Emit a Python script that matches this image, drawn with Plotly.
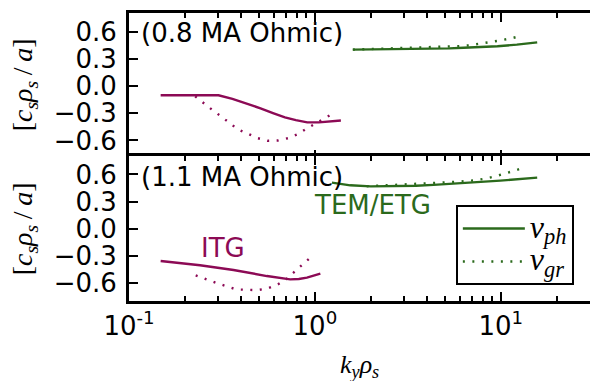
import plotly.graph_objects as go

# ---- 0.8 MA Ohmic: ITG branch (negative frequencies) ----
k_itg_ph_08 = [0.148, 0.303, 0.36, 0.43, 0.51, 0.60, 0.69, 0.79, 0.91, 1.05, 1.2, 1.38]
v_itg_ph_08 = [-0.10, -0.10, -0.14, -0.19, -0.245, -0.30, -0.345, -0.375, -0.40, -0.40, -0.39, -0.38]
k_itg_gr_08 = [0.227, 0.251, 0.280, 0.312, 0.347, 0.385, 0.433, 0.491, 0.556, 0.632, 0.722,
               0.813, 0.906, 1.137, 1.27]
v_itg_gr_08 = [-0.112, -0.187, -0.261, -0.332, -0.406, -0.478, -0.523, -0.574, -0.604, -0.601,
               -0.574, -0.529, -0.467, -0.347, -0.294]

# ---- 0.8 MA Ohmic: TEM/ETG branch ----
k_tem_ph_08 = [1.60, 2.3, 3.2, 4.2, 5.3, 6.3, 7.8, 9.6, 12.2, 15.7]
v_tem_ph_08 = [0.405, 0.408, 0.41, 0.414, 0.419, 0.425, 0.432, 0.442, 0.46, 0.485]
k_tem_gr_08 = [1.6, 2.67, 3.97, 5.17, 5.91, 6.75, 7.69, 8.79, 10.0, 11.4, 13.0]
v_tem_gr_08 = [0.405, 0.418, 0.425, 0.435, 0.443, 0.452, 0.468, 0.487, 0.507, 0.53, 0.56]

# ---- 1.1 MA Ohmic: ITG branch ----
k_itg_ph_11 = [0.148, 0.241, 0.365, 0.552, 0.736, 0.82, 0.906, 1.07]
v_itg_ph_11 = [-0.357, -0.405, -0.457, -0.524, -0.561, -0.556, -0.542, -0.498]
k_itg_gr_11 = [0.2285, 0.259, 0.293, 0.333, 0.378, 0.431, 0.491, 0.556, 0.632, 0.70, 0.776,
               0.857, 0.946]
v_itg_gr_11 = [-0.516, -0.561, -0.598, -0.636, -0.672, -0.676, -0.68, -0.661, -0.617, -0.56,
               -0.48, -0.397, -0.319]

# ---- 1.1 MA Ohmic: TEM/ETG branch ----
k_tem_ph_11 = [1.235, 1.55, 2.0, 2.6, 3.5, 4.35, 6.59, 9.95, 15.7]
v_tem_ph_11 = [0.51, 0.48, 0.468, 0.468, 0.475, 0.485, 0.505, 0.532, 0.565]
k_tem_gr_11 = [1.9, 2.88, 4.32, 5.58, 7.21, 8.26, 9.35, 10.7, 12.1, 13.7]
v_tem_gr_11 = [0.47, 0.49, 0.502, 0.517, 0.535, 0.554, 0.58, 0.613, 0.647, 0.685]

y_ticks = [-0.6, -0.3, 0.0, 0.3, 0.6]
x_ticks = [0.1, 1, 10]
x_tick_text = ["10<sup>-1</sup>", "10<sup>0</sup>", "10<sup>1</sup>"]

PURPLE = "#8c0a55"
GREEN = "#2b6a1c"
LW = 2.4
DOT = "2px,7.5px"
TICK_FONT = dict(family="DejaVu Sans", size=26, color="black")
MATH_FONT = "Liberation Serif"
SPINE = 3

fig = go.Figure()


def add(k, v, color, dash, xa, ya, name=None, legend=False):
    fig.add_trace(go.Scatter(
        x=k, y=v, mode="lines", xaxis=xa, yaxis=ya,
        line=dict(color=color, width=LW, dash=dash),
        name=name, showlegend=legend, hoverinfo="skip"))


def legend_label(sym, sub):
    return ('<span style="font-size:32px"><i>%s</i><sub><i>%s</i></sub></span>'
            % (sym, sub))


# top panel (0.8 MA)
add(k_itg_ph_08, v_itg_ph_08, PURPLE, "solid", "x", "y")
add(k_itg_gr_08, v_itg_gr_08, PURPLE, DOT, "x", "y")
add(k_tem_ph_08, v_tem_ph_08, GREEN, "solid", "x", "y")
add(k_tem_gr_08, v_tem_gr_08, GREEN, DOT, "x", "y")
# bottom panel (1.1 MA)
add(k_itg_ph_11, v_itg_ph_11, PURPLE, "solid", "x2", "y2")
add(k_itg_gr_11, v_itg_gr_11, PURPLE, DOT, "x2", "y2")
add(k_tem_ph_11, v_tem_ph_11, GREEN, "solid", "x2", "y2", legend_label("v", "ph"), True)
add(k_tem_gr_11, v_tem_gr_11, GREEN, DOT, "x2", "y2", legend_label("v", "gr"), True)

X_RANGE = [-1, 1.48]
Y_RANGE = [-0.80, 0.81]

# the two panels share one spine: overlap the domains by the line width
PLOT_H = 381 - 13 - 80
half = (SPINE / 2) / PLOT_H
TOP_DOM = [0.5 - half, 1]
BOT_DOM = [0, 0.5 + half]

xcommon = dict(type="log", range=X_RANGE, showline=True, linecolor="black", linewidth=SPINE,
               mirror="ticks", ticks="inside", ticklen=9, tickwidth=2, tickcolor="black",
               tickvals=x_ticks, ticktext=x_tick_text, showgrid=False, zeroline=False,
               tickfont=TICK_FONT,
               minor=dict(ticks="inside", ticklen=5, tickwidth=1.5, tickcolor="black",
                          dtick="D1", showgrid=False))
ycommon = dict(range=Y_RANGE, showline=True, linecolor="black", linewidth=SPINE,
               ticks="inside", ticklen=9, tickwidth=2, tickcolor="black",
               tickvals=y_ticks, tickformat=".1f", showgrid=False, zeroline=False,
               tickfont=TICK_FONT, ticklabelstandoff=4)
yright = dict(range=Y_RANGE, showline=False, ticks="inside", ticklen=9, tickwidth=2,
              tickcolor="black", tickvals=y_ticks, showticklabels=False,
              showgrid=False, zeroline=False, side="right")

fig.update_layout(
    width=590, height=381,
    margin=dict(l=129, r=0, t=13, b=80),
    paper_bgcolor="white", plot_bgcolor="white",
    xaxis=dict(xcommon, domain=[0, 1], anchor="y", showticklabels=False),
    yaxis=dict(ycommon, domain=TOP_DOM, anchor="x"),
    xaxis2=dict(xcommon, domain=[0, 1], anchor="y2", showticklabels=True),
    yaxis2=dict(ycommon, domain=BOT_DOM, anchor="x2"),
    yaxis3=dict(yright, overlaying="y", anchor="x"),
    yaxis4=dict(yright, overlaying="y2", anchor="x2"),
    legend=dict(x=0.709, y=0.333, xanchor="left", yanchor="top",
                bordercolor="black", borderwidth=2, bgcolor="white",
                font=dict(family=MATH_FONT, size=23, color="black"),
                tracegroupgap=0, itemwidth=62),
    showlegend=True,
)

ann_font = dict(family="DejaVu Sans", size=26, color="black")
fig.add_annotation(text="(0.8 MA Ohmic)", xref="paper", yref="paper", x=0.022, y=0.931,
                   xanchor="left", yanchor="middle", showarrow=False, font=ann_font)
fig.add_annotation(text="(1.1 MA Ohmic)", xref="paper", yref="paper", x=0.022, y=0.431,
                   xanchor="left", yanchor="middle", showarrow=False, font=ann_font)
fig.add_annotation(text="ITG", xref="paper", yref="paper", x=0.152, y=0.184,
                   xanchor="left", yanchor="middle", showarrow=False,
                   font=dict(family="DejaVu Sans", size=26, color=PURPLE))
fig.add_annotation(text="TEM/ETG", xref="paper", yref="paper", x=0.397, y=0.333,
                   xanchor="left", yanchor="middle", showarrow=False,
                   font=dict(family="DejaVu Sans", size=26, color=GREEN))

# axis titles
ytitle = "[<i>c</i><sub><i>s</i></sub><i>ρ</i><sub><i>s</i></sub>\u2009/\u2009<i>a</i>]"
for yc in (0.75, 0.25):
    fig.add_annotation(text=ytitle, xref="paper", yref="paper", x=-0.227, y=yc,
                       xanchor="center", yanchor="middle", textangle=-90, showarrow=False,
                       font=dict(family=MATH_FONT, size=28, color="black"))
fig.add_annotation(text="<i>k</i><sub><i>y</i></sub><i>ρ</i><sub><i>s</i></sub>",
                   xref="paper", yref="paper", x=0.5, y=-0.225,
                   xanchor="center", yanchor="middle", showarrow=False,
                   font=dict(family=MATH_FONT, size=26, color="black"))

fig.write_html("out.html")
